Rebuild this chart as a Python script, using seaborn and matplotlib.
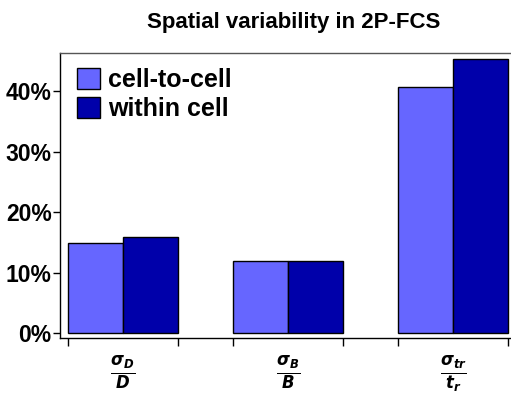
import seaborn as sns
import matplotlib.pyplot as plt
import pandas as pd
from matplotlib.ticker import FuncFormatter

params = [r"$\mathbfit{\frac{\sigma_D}{D}}$", r"$\mathbfit{\frac{\sigma_B}{B}}$", r"$\mathbfit{\frac{\sigma_{tr}}{t_r}}$"]
cell_to_cell = [14.9, 12.0, 40.7]
within_cell = [15.9, 12.0, 45.3]
series = ["cell-to-cell", "within cell"]

df = pd.DataFrame({
    "param": params * 2,
    "value": cell_to_cell + within_cell,
    "series": [series[0]] * 3 + [series[1]] * 3,
})

sns.set_style("white")
plt.rcParams["font.family"] = ["Liberation Sans", "DejaVu Sans"]
plt.rcParams["mathtext.fontset"] = "dejavusans"
plt.rcParams["text.color"] = "black"
plt.rcParams["xtick.color"] = "black"
plt.rcParams["ytick.color"] = "black"

fig = plt.figure(figsize=(5.11, 3.99), dpi=100)
ax = fig.add_axes([60 / 511, 1 - 338 / 399, 450 / 511, 285 / 399])

sns.barplot(data=df, x="param", y="value", hue="series", order=params,
            palette=["#6666FF", "#0000AA"], width=0.667, edgecolor="black",
            linewidth=1, saturation=1, ax=ax)

ax.set_xlim(-0.382, 2.345)
ax.set_ylim(-0.8, 46.3)
ax.set_yticks([0, 10, 20, 30, 40])
ax.yaxis.set_major_formatter(FuncFormatter(lambda v, p: f"{v:.0f}%"))
ax.tick_params(axis="y", direction="out", length=5, width=1, labelsize=16.5, left=True, pad=1)
for t in ax.get_yticklabels():
    t.set_fontweight("bold")

ax.set_xticks([-0.333, 0.333, 0.667, 1.333, 1.667, 2.333])
ax.set_xticklabels([])
ax.set_xticks([0, 1, 2], minor=True)
ax.set_xticklabels(params, minor=True, fontsize=17)
ax.tick_params(axis="x", which="major", direction="out", length=6, width=1, bottom=True)
ax.tick_params(axis="x", which="minor", length=0, pad=12)

for s in ["left", "bottom", "top"]:
    ax.spines[s].set_color("black")
    ax.spines[s].set_linewidth(1)
ax.spines["top"].set_color("#555555")
ax.spines["right"].set_visible(False)

ax.set_xlabel("")
ax.set_ylabel("")
leg = ax.legend(loc="upper left", bbox_to_anchor=(0.01, 0.99), frameon=False,
                prop={"weight": "bold", "size": 18}, handlelength=0.9, handleheight=0.9,
                handletextpad=0.35, labelspacing=0.2, borderaxespad=0.1)

fig.suptitle("Spatial variability in 2P-FCS", fontsize=16, fontweight="bold", x=0.575, y=0.97)

fig.savefig("out.png", dpi=100)
